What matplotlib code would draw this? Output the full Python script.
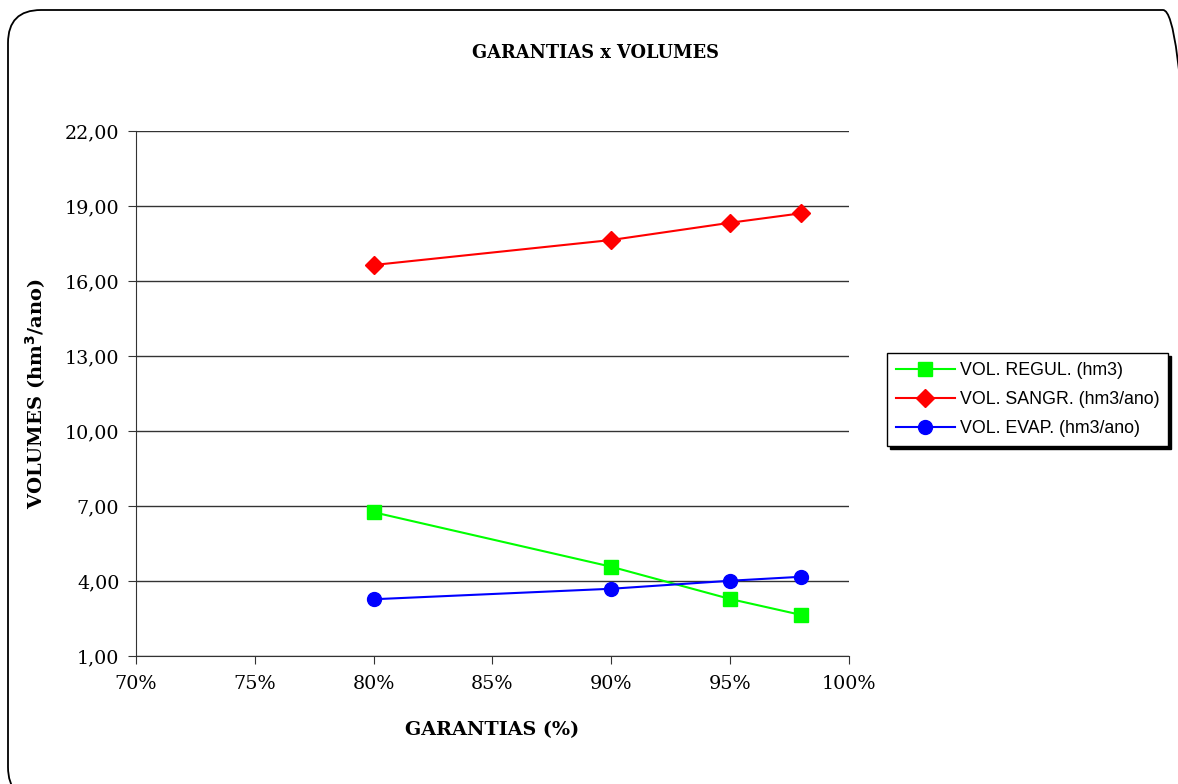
import matplotlib
matplotlib.use("Agg")
import matplotlib.pyplot as plt
from matplotlib.patches import FancyBboxPatch
from matplotlib.ticker import FuncFormatter, FixedLocator

garantias = [80, 90, 95, 98]
vol_regul = [6.75, 4.57, 3.28, 2.64]
vol_sangr = [16.64, 17.64, 18.33, 18.71]
vol_evap = [3.27, 3.69, 4.01, 4.17]
x_ticks = [70, 75, 80, 85, 90, 95, 100]
y_ticks = [1, 4, 7, 10, 13, 16, 19, 22]
labels = ["VOL. REGUL. (hm3)", "VOL. SANGR. (hm3/ano)", "VOL. EVAP. (hm3/ano)"]

W, H = 1178, 784
fig = plt.figure(figsize=(W / 100, H / 100), dpi=100)
fig.patch.set_facecolor("white")

# rounded outer border (inches, origin bottom-left)
border = FancyBboxPatch((0.08, (H - 800) / 100), (1196 - 8) / 100, (800 - 10) / 100,
                        boxstyle="round,pad=0,rounding_size=0.33",
                        transform=fig.dpi_scale_trans, fill=False,
                        edgecolor="black", linewidth=1.3)
fig.patches.append(border)

ax = fig.add_axes([136 / W, 1 - 656 / H, (849 - 136) / W, (656 - 131) / H])

serif = "DejaVu Serif"
ax.plot(garantias, vol_regul, color="#00ff00", marker="s", markersize=10,
        linewidth=1.5, label=labels[0], zorder=3)
ax.plot(garantias, vol_sangr, color="#ff0000", marker="D", markersize=9,
        linewidth=1.5, label=labels[1], zorder=3)
ax.plot(garantias, vol_evap, color="#0000ff", marker="o", markersize=10,
        linewidth=1.5, label=labels[2], zorder=3)

ax.set_xlim(70, 100)
ax.set_ylim(1, 22)
ax.xaxis.set_major_locator(FixedLocator(x_ticks))
ax.yaxis.set_major_locator(FixedLocator(y_ticks))
ax.xaxis.set_major_formatter(FuncFormatter(lambda v, p: f"{int(round(v))}%"))
ax.yaxis.set_major_formatter(FuncFormatter(lambda v, p: f"{v:.2f}".replace(".", ",")))
ax.grid(axis="y", color="#333333", linewidth=1.0)
ax.set_axisbelow(True)
for s in ["top", "right"]:
    ax.spines[s].set_visible(False)
for s in ["left", "bottom"]:
    ax.spines[s].set_color("#333333")
ax.tick_params(direction="out", length=6, color="#333333", labelsize=13.8)
ax.tick_params(axis="x", pad=8)
ax.tick_params(axis="y", pad=6)
for lab in ax.get_xticklabels() + ax.get_yticklabels():
    lab.set_fontfamily(serif)

ax.set_xlabel("GARANTIAS (%)", fontfamily=serif, fontweight="bold", fontsize=13.8, labelpad=20)
ax.set_ylabel("VOLUMES (hm$^\\mathbf{3}$/ano)", fontfamily=serif, fontweight="bold",
              fontsize=14, labelpad=12)
fig.text(595 / W, 1 - 53 / H, "GARANTIAS x VOLUMES", ha="center", va="center",
         fontfamily=serif, fontweight="bold", fontsize=12.8)

leg = ax.legend(loc="upper left", bbox_to_anchor=(887 / W, 1 - 353 / H),
                bbox_transform=fig.transFigure, frameon=True, fancybox=False,
                shadow={"color": "black", "alpha": 1}, framealpha=1,
                prop={"family": "Liberation Sans", "size": 12.8},
                borderpad=0.5, labelspacing=0.68, handlelength=3.3,
                handletextpad=0.3, borderaxespad=0)
leg.get_frame().set_edgecolor("black")
leg.get_frame().set_linewidth(1.0)

fig.savefig("out.png", dpi=100)
